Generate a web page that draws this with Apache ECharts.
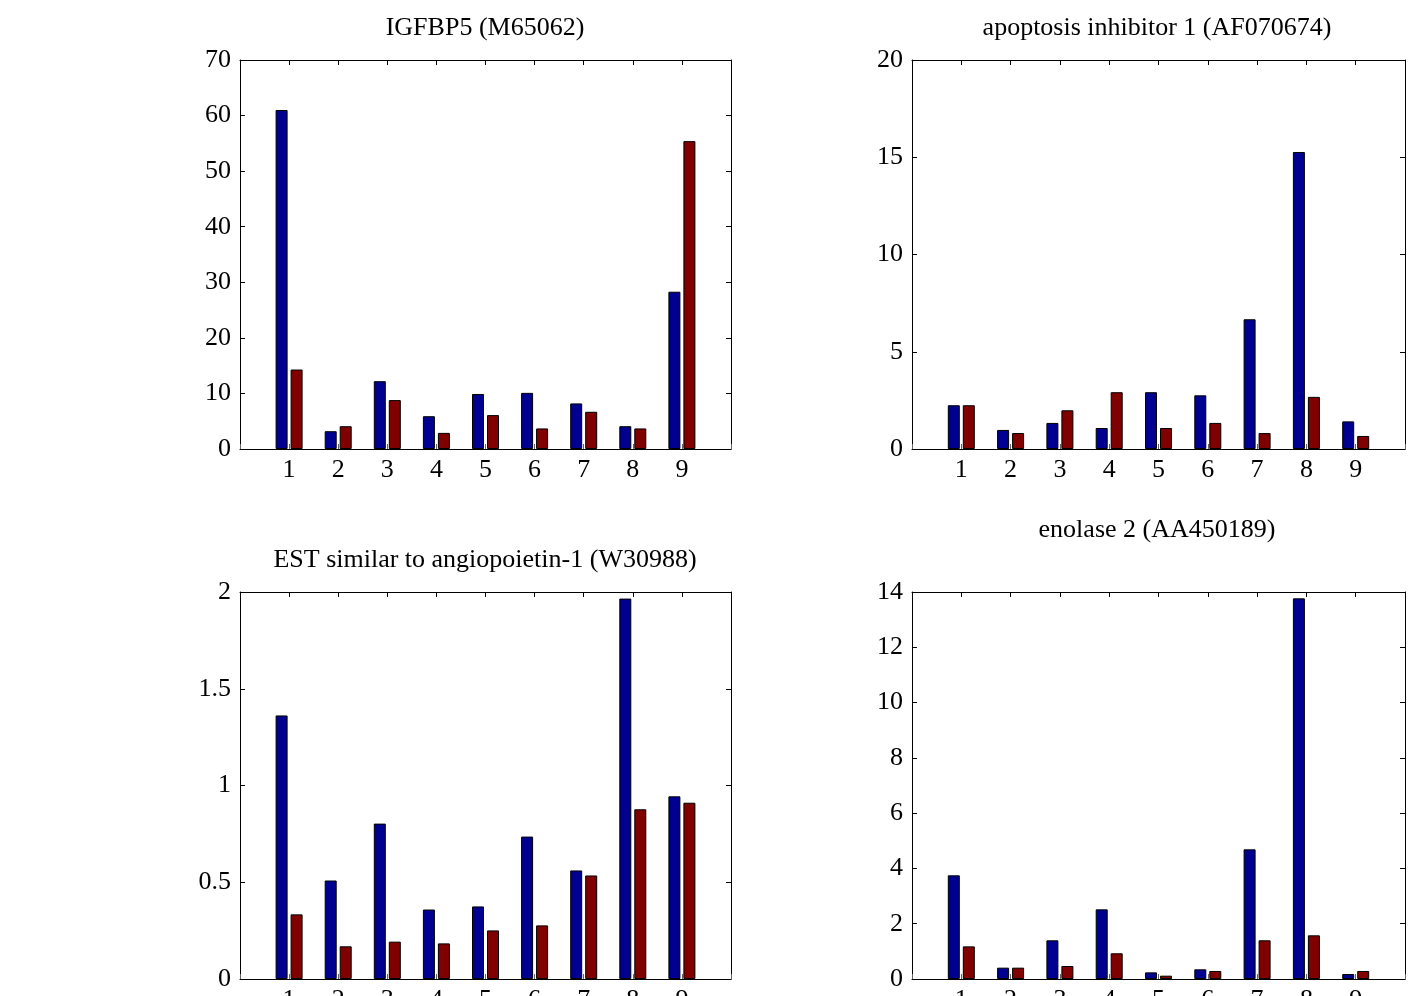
<!DOCTYPE html>
<html>
<head>
<meta charset="utf-8">
<script src="https://cdn.jsdelivr.net/npm/echarts@6/dist/echarts.min.js"></script>
<style>
html, body { margin: 0; padding: 0; background: #fff; }
#chart { width: 1411px; height: 996px; }
</style>
</head>
<body>
<div id="chart"></div>
<script>
// sample positions on the x axis
const positions = [1, 2, 3, 4, 5, 6, 7, 8, 9]

const titles = [
    'IGFBP5 (M65062)',
    'apoptosis inhibitor 1 (AF070674)',
    'EST similar to angiopoietin-1 (W30988)',
    'enolase 2 (AA450189)'
]

// IGFBP5
const igfbp5Blue = [61.0, 3.2, 12.2, 5.9, 9.9, 10.1, 8.2, 4.1, 28.3]
const igfbp5Red = [14.3, 4.1, 8.8, 2.9, 6.1, 3.7, 6.7, 3.7, 55.4]

// apoptosis inhibitor 1
const apoBlue = [2.25, 0.98, 1.34, 1.08, 2.92, 2.76, 6.67, 15.27, 1.42]
const apoRed = [2.25, 0.82, 1.99, 2.92, 1.08, 1.34, 0.82, 2.68, 0.67]

// EST similar to angiopoietin-1
const estBlue = [1.362, 0.509, 0.803, 0.359, 0.375, 0.736, 0.561, 1.966, 0.944]
const estRed = [0.334, 0.169, 0.193, 0.184, 0.251, 0.277, 0.535, 0.877, 0.911]

// enolase 2
const enoBlue = [3.75, 0.41, 1.40, 2.52, 0.24, 0.35, 4.69, 13.77, 0.18]
const enoRed = [1.18, 0.41, 0.47, 0.93, 0.12, 0.29, 1.40, 1.58, 0.29]

const yMax = [70, 20, 2, 14]
const yStep = [10, 5, 0.5, 2]

const panels = [
    {blue: igfbp5Blue, red: igfbp5Red},
    {blue: apoBlue, red: apoRed},
    {blue: estBlue, red: estRed},
    {blue: enoBlue, red: enoRed}
]

const grids = [
    {left: 240, top: 60, width: 491, height: 389},
    {left: 912, top: 60, width: 493, height: 389},
    {left: 240, top: 592, width: 491, height: 387},
    {left: 912, top: 592, width: 493, height: 387}
]
const titlePos = [[485, 28], [1157, 28], [485, 560], [1157, 530]]

const font = '"Liberation Serif", "Times New Roman", serif'
const lineStyle = {color: '#000', width: 1}

const chart = echarts.init(document.getElementById('chart'))

const option = {
    animation: false,
    backgroundColor: '#fff',
    grid: grids.map(g => Object.assign({containLabel: false, outerBoundsMode: 'none'}, g)),
    xAxis: [],
    yAxis: [],
    series: [],
    graphic: titles.map((t, i) => ({
        type: 'text',
        x: titlePos[i][0],
        y: titlePos[i][1],
        style: {
            text: t,
            fill: '#000',
            font: '26px ' + font,
            textAlign: 'center',
            textVerticalAlign: 'middle'
        }
    }))
}

panels.forEach((p, i) => {
    // bottom x axis with labels
    option.xAxis.push({
        gridIndex: i,
        type: 'value',
        min: 0,
        max: 10,
        interval: 1,
        position: 'bottom',
        axisLine: {onZero: false, lineStyle: lineStyle},
        axisTick: {inside: true, length: 5, lineStyle: {color: '#666'}},
        splitLine: {show: false},
        axisLabel: {
            color: '#000',
            fontFamily: font,
            fontSize: 26,
            margin: 8,
            formatter: v => (v >= 1 && v <= 9 ? String(v) : '')
        }
    })
    // top mirror axis
    option.xAxis.push({
        gridIndex: i,
        type: 'value',
        min: 0,
        max: 10,
        interval: 1,
        position: 'top',
        axisLine: {onZero: false, lineStyle: lineStyle},
        axisTick: {inside: true, length: 5, lineStyle: lineStyle},
        splitLine: {show: false},
        axisLabel: {show: false}
    })
    option.yAxis.push({
        gridIndex: i,
        type: 'value',
        min: 0,
        max: yMax[i],
        interval: yStep[i],
        position: 'left',
        axisLine: {show: true, onZero: false, lineStyle: lineStyle},
        axisTick: {show: true, inside: true, length: 5, lineStyle: lineStyle},
        splitLine: {show: false},
        axisLabel: {color: '#000', fontFamily: font, fontSize: 26, margin: 9}
    })
    option.yAxis.push({
        gridIndex: i,
        type: 'value',
        min: 0,
        max: yMax[i],
        interval: yStep[i],
        position: 'right',
        axisLine: {show: true, onZero: false, lineStyle: lineStyle},
        axisTick: {show: true, inside: true, length: 5, lineStyle: lineStyle},
        splitLine: {show: false},
        axisLabel: {show: false}
    })

    const mk = (vals, color) => ({
        type: 'bar',
        xAxisIndex: i * 2,
        yAxisIndex: i * 2,
        barWidth: 12,
        barGap: '25%',
        itemStyle: {color: color, borderColor: '#000', borderWidth: 1},
        data: positions.map((x, k) => [x, vals[k]])
    })
    option.series.push(mk(p.blue, '#000090'))
    option.series.push(mk(p.red, '#800000'))
})

chart.setOption(option)
</script>
</body>
</html>
